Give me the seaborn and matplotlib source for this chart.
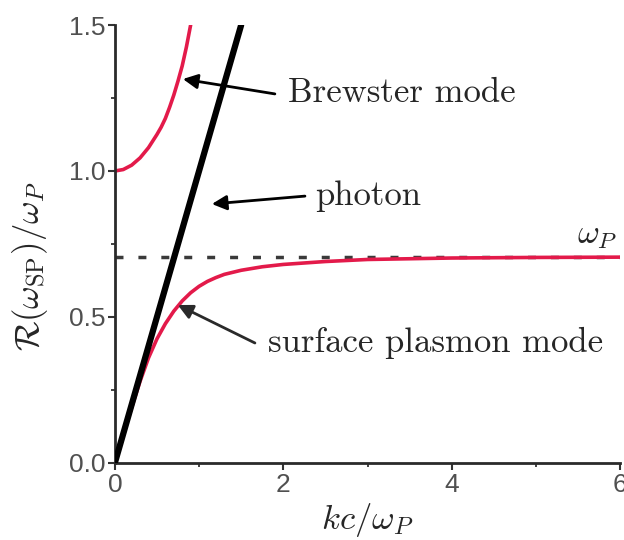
import numpy as np
import pandas as pd
import matplotlib
matplotlib.use("Agg")
import matplotlib.pyplot as plt
from matplotlib.ticker import MultipleLocator
import seaborn as sns

# ---- data ----
brewster_k = [0.0, 0.1, 0.2, 0.3, 0.4, 0.5, 0.55, 0.6, 0.65, 0.7, 0.75, 0.8, 0.85, 0.9]
brewster_w = [1.0, 1.005, 1.02, 1.045, 1.08, 1.125, 1.15, 1.18, 1.218, 1.26, 1.308, 1.36, 1.425, 1.5]

sp_k = [0.0, 0.1, 0.2, 0.3, 0.4, 0.5, 0.6, 0.7, 0.8, 0.9, 1.0, 1.1, 1.2, 1.3, 1.5, 1.75, 2.0, 2.5, 3.0, 4.0, 5.0, 6.0]
sp_w = [0.0, 0.098, 0.19, 0.28, 0.36, 0.425, 0.477, 0.52, 0.555, 0.583, 0.605, 0.622, 0.635, 0.646, 0.66, 0.672, 0.68, 0.69, 0.697, 0.702, 0.704, 0.705]

photon_k = [0.0, 1.5]
photon_w = [0.0, 1.5]

wp_level = 0.705
xticks = [0, 2, 4, 6]
yticks = [0.0, 0.5, 1.0, 1.5]
xtick_labels = ["0", "2", "4", "6"]
ytick_labels = ["0.0", "0.5", "1.0", "1.5"]

sns.set_style("ticks")
plt.rcParams["mathtext.fontset"] = "cm"
plt.rcParams["axes.formatter.use_mathtext"] = True

RED = "#e31a4a"

fig = plt.figure(figsize=(6.24, 5.40), dpi=100)
ax = fig.add_axes([0.184, 0.1426, 0.81, 0.8111])

df_b = pd.DataFrame({"k": brewster_k, "w": brewster_w})
df_s = pd.DataFrame({"k": sp_k, "w": sp_w})
df_p = pd.DataFrame({"k": photon_k, "w": photon_w})

ax.axhline(wp_level, color="#3a3a3a", lw=2.5, dashes=(2.3, 4.3), zorder=1)
sns.lineplot(data=df_b, x="k", y="w", ax=ax, color=RED, lw=2.6, sort=False, zorder=2)
sns.lineplot(data=df_s, x="k", y="w", ax=ax, color=RED, lw=2.6, sort=False, zorder=2)
sns.lineplot(data=df_p, x="k", y="w", ax=ax, color="black", lw=4.5, sort=False, zorder=3)

ax.set_xlim(0, 6)
ax.set_ylim(0, 1.5)
ax.set_xticks(xticks)
ax.set_xticklabels(xtick_labels)
ax.set_yticks(yticks)
ax.set_yticklabels(ytick_labels)
ax.xaxis.set_minor_locator(MultipleLocator(1))
ax.yaxis.set_minor_locator(MultipleLocator(0.25))
ax.tick_params(which="major", direction="out", length=5, width=1.5, color="#333333",
               labelsize=19, labelcolor="#505050", pad=2)
ax.tick_params(which="minor", direction="out", length=3, width=1.3, color="#333333")
for lab in ax.get_xticklabels() + ax.get_yticklabels():
    lab.set_fontfamily("Liberation Sans")

for s in ["top", "right"]:
    ax.spines[s].set_visible(False)
for s in ["left", "bottom"]:
    ax.spines[s].set_linewidth(2)
    ax.spines[s].set_color("#2a2a2a")

ax.set_xlabel(r"$kc/\omega_P$", fontsize=25, labelpad=3)
ax.set_ylabel(r"$\mathcal{R}(\omega_{\rm SP})/\omega_P$", fontsize=25)
ax.yaxis.set_label_coords(-0.128, 0.45)

tfont = dict(family="cmr10", fontsize=25, va="baseline", ha="left")
ax.text(2.055, 1.236, "Brewster mode", **tfont)
ax.text(2.375, 0.884, "photon", **tfont)
ax.text(1.817, 0.380, "surface plasmon mode", **tfont)
ax.text(5.49, 0.725, r"$\omega_P$", fontsize=24, va="bottom", ha="left", clip_on=False)

arrow = dict(arrowstyle="-|>", color="black", lw=2, mutation_scale=22, shrinkA=0, shrinkB=0)
ax.annotate("", xy=(0.808, 1.315), xytext=(1.90, 1.264), arrowprops=arrow)
ax.annotate("", xy=(1.152, 0.887), xytext=(2.257, 0.914), arrowprops=arrow)
arrow2 = dict(arrow, color="#2a2a2a")
ax.annotate("", xy=(0.748, 0.541), xytext=(1.663, 0.411), arrowprops=arrow2)

fig.savefig("out.png", dpi=100)
